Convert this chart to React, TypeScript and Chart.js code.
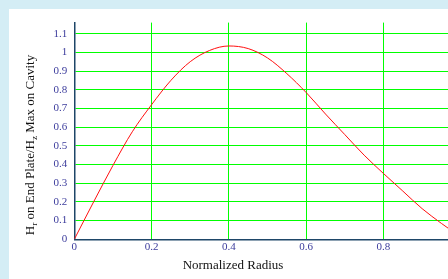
import React, { useEffect, useRef } from "react";
import { Chart, registerables } from "chart.js";

Chart.register(...registerables);

const radius = [0, 0.05, 0.1, 0.15, 0.2, 0.25, 0.3, 0.35, 0.4, 0.45, 0.5, 0.55, 0.6, 0.65, 0.7, 0.75, 0.8, 0.85, 0.9, 0.95, 0.967];
const ratio = [0, 0.2, 0.395, 0.575, 0.72, 0.85, 0.95, 1.01, 1.034, 1.02, 0.97, 0.886, 0.785, 0.67, 0.56, 0.45, 0.352, 0.258, 0.164, 0.085, 0.06];
const xTitle = "Normalized Radius";
const yTitleParts: [string, boolean][] = [["H", false], ["r", true], [" on End Plate/H", false], ["z", true], [" Max on Cavity", false]];

const SERIF = "'Liberation Serif', 'DejaVu Serif', serif";

const titlePlugin = {
  id: "customTitles",
  afterDraw(chart: any) {
    const ctx = chart.ctx;
    ctx.save();
    ctx.fillStyle = "#111";
    ctx.textBaseline = "middle";
    ctx.textAlign = "center";
    ctx.font = `13px ${SERIF}`;
    ctx.fillText(xTitle, 224, 257);
    const main = `13px ${SERIF}`;
    const sub = `9px ${SERIF}`;
    let total = 0;
    for (const [t, s] of yTitleParts) {
      ctx.font = s ? sub : main;
      total += ctx.measureText(t).width;
    }
    ctx.translate(22, 136);
    ctx.rotate(-Math.PI / 2);
    ctx.textAlign = "left";
    let x = -total / 2;
    for (const [t, s] of yTitleParts) {
      ctx.font = s ? sub : main;
      ctx.fillText(t, x, s ? 4 : 0);
      x += ctx.measureText(t).width;
    }
    ctx.restore();
  },
};

export default function App() {
  const ref = useRef<HTMLCanvasElement | null>(null);
  useEffect(() => {
    document.body.style.margin = "0";
    document.body.style.background = "#d4edf5";
    const chart = new Chart(ref.current!, {
      type: "line",
      data: {
        datasets: [
          {
            data: radius.map((r, i) => ({ x: r, y: ratio[i] })),
            borderColor: "#ff1010",
            borderWidth: 1,
            pointRadius: 0,
            cubicInterpolationMode: "monotone",
            fill: false,
          },
        ],
      },
      options: {
        animation: false,
        responsive: false,
        maintainAspectRatio: false,
        layout: { padding: 0 },
        plugins: { legend: { display: false }, tooltip: { enabled: false }, title: { display: false } },
        scales: {
          x: {
            type: "linear",
            min: 0,
            max: 0.967,
            afterFit(scale: any) {
              scale.height = 39.7;
            },
            ticks: {
              stepSize: 0.2,
              includeBounds: false,
              color: "#3c3c9c",
              font: { family: SERIF, size: 11 },
              padding: 1,
              maxRotation: 0,
              callback: (v: any) => String(Math.round(Number(v) * 10) / 10),
            },
            grid: { color: "#00ff00", lineWidth: 1, drawTicks: false },
            border: { color: "#1e4668", width: 1.5 },
          },
          y: {
            type: "linear",
            min: 0,
            max: 1.159,
            afterFit(scale: any) {
              scale.width = 65.3;
            },
            ticks: {
              stepSize: 0.1,
              includeBounds: false,
              color: "#3c3c9c",
              font: { family: SERIF, size: 11 },
              padding: 7,
              callback: (v: any) => String(Math.round(Number(v) * 10) / 10),
            },
            grid: { color: "#00ff00", lineWidth: 1, drawTicks: false },
            border: { color: "#1e4668", width: 1.5 },
          },
        },
      },
      plugins: [titlePlugin],
    } as any);
    return () => chart.destroy();
  }, []);
  return (
    <div style={{ paddingLeft: 9, paddingTop: 9, overflow: "hidden" }}>
      <canvas ref={ref} width={439} height={270} style={{ display: "block", background: "#fff" }} />
    </div>
  );
}
